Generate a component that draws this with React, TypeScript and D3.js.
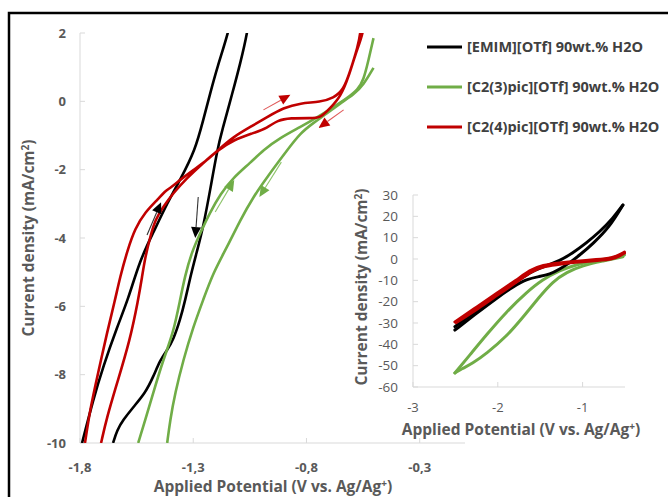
import React from 'react';
import * as d3 from 'd3';

type Pt = [number, number];

// ---- main panel data: potential (V vs Ag/Ag+) , current density (mA/cm2)
const emimLoop: Pt[] = [
  [-1.791, -10.0], [-1.742, -8.74], [-1.698, -7.77], [-1.636, -6.6], [-1.588, -5.81],
  [-1.535, -4.64], [-1.477, -3.85], [-1.415, -2.98], [-1.358, -2.3], [-1.291, -1.42],
  [-1.256, -0.55], [-1.225, 0.24], [-1.194, 1.0], [-1.145, 2.0], [-1.12, 2.8],
  [-1.045, 2.8], [-1.061, 2.0], [-1.092, 1.12], [-1.127, 0.24], [-1.172, -0.84],
  [-1.194, -1.42], [-1.225, -2.59], [-1.256, -3.68], [-1.282, -4.35], [-1.313, -5.14],
  [-1.335, -5.81], [-1.358, -6.4], [-1.388, -6.98], [-1.415, -7.28], [-1.446, -7.57],
  [-1.477, -8.07], [-1.512, -8.54], [-1.565, -8.95], [-1.61, -9.33], [-1.636, -9.62],
  [-1.654, -10.0],
];

const c23Forward: Pt[] = [
  [-1.543, -10.0], [-1.512, -9.33], [-1.477, -8.54], [-1.433, -7.57], [-1.388, -6.78],
  [-1.358, -5.81], [-1.336, -5.1], [-1.308, -4.44], [-1.269, -3.85], [-1.225, -3.24],
  [-1.181, -2.72], [-1.123, -2.23], [-1.048, -1.8], [-0.99, -1.42], [-0.915, -1.06],
  [-0.827, -0.75], [-0.751, -0.46], [-0.681, -0.17], [-0.619, 0.1], [-0.574, 0.33],
  [-0.548, 0.62], [-0.526, 1.21], [-0.504, 1.85],
];
const c23Reverse: Pt[] = [
  [-0.504, 0.98], [-0.548, 0.48], [-0.592, 0.19], [-0.65, -0.05], [-0.707, -0.34],
  [-0.769, -0.63], [-0.827, -0.93], [-0.884, -1.42], [-0.973, -2.21], [-1.035, -2.8],
  [-1.092, -3.47], [-1.15, -4.26], [-1.212, -5.02], [-1.256, -5.81], [-1.3, -6.6],
  [-1.344, -7.57], [-1.38, -8.54], [-1.402, -9.33], [-1.415, -10.0],
];

const c24Loop: Pt[] = [
  [-1.778, -10.0], [-1.756, -9.03], [-1.72, -7.95], [-1.681, -6.78], [-1.645, -5.81],
  [-1.623, -5.14], [-1.59, -4.35], [-1.557, -3.72], [-1.512, -3.24], [-1.459, -2.89],
  [-1.424, -2.62], [-1.402, -2.54], [-1.358, -2.3], [-1.3, -2.01], [-1.238, -1.72],
  [-1.189, -1.42], [-1.123, -1.04], [-1.048, -0.75], [-0.973, -0.46], [-0.902, -0.19],
  [-0.827, -0.05], [-0.738, -0.02], [-0.681, 0.1], [-0.636, 0.33], [-0.605, 0.92],
  [-0.574, 1.59], [-0.561, 2.0], [-0.555, 2.6],
  [-0.542, 2.6], [-0.548, 2.0], [-0.583, 1.41], [-0.614, 0.71], [-0.65, 0.13],
  [-0.694, -0.19], [-0.738, -0.49], [-0.782, -0.49], [-0.871, -0.49], [-0.928, -0.55],
  [-0.973, -0.78], [-1.035, -0.93], [-1.123, -1.13], [-1.189, -1.42], [-1.256, -1.8],
  [-1.327, -2.24], [-1.388, -2.68], [-1.433, -3.09], [-1.468, -3.47], [-1.49, -3.97],
  [-1.512, -4.56], [-1.526, -5.14], [-1.543, -5.81], [-1.579, -6.98], [-1.636, -8.24],
  [-1.681, -9.24], [-1.707, -10.0],
];

// scan direction arrows [from, to]
const scanArrows: { color: string; shaft: string; from: Pt; to: Pt }[] = [
  { color: '#000000', shaft: '#333333', from: [-1.504, -3.91], to: [-1.442, -2.95] },
  { color: '#000000', shaft: '#333333', from: [-1.278, -2.8], to: [-1.291, -4.0] },
  { color: '#70ad47', shaft: '#8cc46a', from: [-1.203, -3.24], to: [-1.119, -2.3] },
  { color: '#70ad47', shaft: '#8cc46a', from: [-0.911, -1.78], to: [-1.008, -2.8] },
  { color: '#c00000', shaft: '#e05a5a', from: [-0.99, -0.25], to: [-0.871, 0.19] },
  { color: '#c00000', shaft: '#e05a5a', from: [-0.636, -0.25], to: [-0.747, -0.78] },
];

// ---- inset data (wider window)
const emimInsetA: Pt[] = [
  [-2.506, -33.3], [-2.247, -25.3], [-2.012, -18.3], [-1.824, -13.1], [-1.659, -9.4],
  [-1.506, -8.2], [-1.388, -7.2], [-1.271, -4.8], [-1.153, -1.8], [-1.035, 1.8],
  [-0.878, 7.2], [-0.682, 15.0], [-0.525, 25.3],
];
const emimInsetB: Pt[] = [
  [-2.506, -31.7], [-2.247, -24.1], [-1.976, -16.0], [-1.741, -9.4], [-1.588, -5.5],
  [-1.431, -3.2], [-1.271, -0.9], [-1.118, 2.8], [-0.957, 7.5], [-0.8, 12.7],
  [-0.643, 19.0], [-0.525, 25.3],
];
const c23InsetA: Pt[] = [
  [-2.506, -53.4], [-2.33, -45.0], [-2.133, -35.5], [-1.9, -24.8], [-1.66, -15.6],
  [-1.47, -9.6], [-1.271, -5.4], [-1.071, -2.5], [-0.835, -0.6], [-0.643, 0.4],
  [-0.506, 1.9],
];
const c23InsetB: Pt[] = [
  [-2.506, -53.4], [-2.43, -51.6], [-2.3, -49.0], [-2.133, -44.3], [-1.9, -36.4],
  [-1.706, -27.4], [-1.506, -17.6], [-1.353, -10.6], [-1.188, -6.2], [-1.0, -3.0],
  [-0.765, -1.0], [-0.525, 1.0],
];
const c24InsetA: Pt[] = [
  [-2.506, -29.5], [-2.247, -22.5], [-2.012, -16.0], [-1.776, -9.8], [-1.624, -5.2],
  [-1.471, -2.8], [-1.271, -1.8], [-1.071, -1.0], [-0.835, -0.3], [-0.643, 0.5],
  [-0.565, 2.0], [-0.506, 3.2],
];
const c24InsetB: Pt[] = [
  [-2.49, -29.8], [-2.23, -23.2], [-1.99, -16.4], [-1.76, -10.4], [-1.6, -5.6],
  [-1.45, -3.4], [-1.25, -2.3], [-1.05, -1.4], [-0.82, -0.7], [-0.64, 0.0],
  [-0.56, 1.5], [-0.506, 2.8],
];

const mainXTicks = [-1.8, -1.3, -0.8, -0.3];
const mainYTicks = [2, 0, -2, -4, -6, -8, -10];
const insetXTicks = [-3, -2, -1];
const insetYTicks = [30, 20, 10, 0, -10, -20, -30, -40, -50, -60];

const legendLabels = [
  '[EMIM][OTf] 90wt.% H2O',
  '[C2(3)pic][OTf] 90wt.% H2O',
  '[C2(4)pic][OTf] 90wt.% H2O',
];
const seriesColors = ['#000000', '#70ad47', '#c00000'];

const FONT = '"Open Sans", "Liberation Sans", sans-serif';
const TICK = '#595959';
const AXIS = '#d9d9d9';

const commaFmt = (d: number) => d.toFixed(1).replace('.', ',');

export default function App() {
  // main panel
  const x = d3.scaleLinear().domain([-1.8, -0.1]).range([80, 465]);
  const y = d3.scaleLinear().domain([-10, 2]).range([443, 33]);
  const line = d3
    .line<Pt>()
    .x((d) => x(d[0]))
    .y((d) => y(d[1]))
    .curve(d3.curveBasis);

  // inset
  const xi = d3.scaleLinear().domain([-3, -0.5]).range([413, 625]);
  const yi = d3.scaleLinear().domain([-60, 30]).range([387, 195]);
  const lineI = d3
    .line<Pt>()
    .x((d) => xi(d[0]))
    .y((d) => yi(d[1]))
    .curve(d3.curveBasis);

  const [x0, x1] = x.range();
  const [y0, y1] = y.range();
  const [xi0, xi1] = xi.range();
  const [yi0, yi1] = yi.range();

  const arrowEls = scanArrows.map((a, i) => {
    const fx = x(a.from[0]);
    const fy = y(a.from[1]);
    const tx = x(a.to[0]);
    const ty = y(a.to[1]);
    const ang = Math.atan2(ty - fy, tx - fx);
    const len = 11;
    const half = 5;
    const bx = tx - len * Math.cos(ang);
    const by = ty - len * Math.sin(ang);
    const px = -Math.sin(ang) * half;
    const py = Math.cos(ang) * half;
    return (
      <g key={i}>
        <line x1={fx} y1={fy} x2={bx} y2={by} stroke={a.shaft} strokeWidth={1.1} />
        <polygon
          points={`${tx},${ty} ${bx + px},${by + py} ${bx - px},${by - py}`}
          fill={a.color}
        />
      </g>
    );
  });

  return (
    <svg
      width={668}
      height={497}
      style={{ position: 'absolute', left: 0, top: 0, background: '#fff' }}
      fontFamily={FONT}
    >
      <defs>
        <clipPath id="mainClip">
          <rect x={x0} y={y1} width={x1 - x0} height={y0 - y1} />
        </clipPath>
      </defs>
      <rect x={9} y={13} width={700} height={520} fill="#fff" stroke="#000" strokeWidth={2.5} />

      {/* main axes */}
      <line x1={x0} x2={x0} y1={y1} y2={y0} stroke={AXIS} strokeWidth={1} />
      <line x1={x0} x2={x1} y1={y0} y2={y0} stroke={AXIS} strokeWidth={1} />
      {mainYTicks.map((t) => (
        <g key={t}>
          <line x1={x0} x2={x0 + 5} y1={y(t)} y2={y(t)} stroke={AXIS} />
          <text x={x0 - 14} y={y(t)} dy="0.35em" textAnchor="end" fontSize={13} fontWeight={700} fill={TICK}>
            {t}
          </text>
        </g>
      ))}
      {mainXTicks.map((t) => (
        <g key={t}>
          <line x1={x(t)} x2={x(t)} y1={y0} y2={y0 - 5} stroke={AXIS} />
          <text x={x(t)} y={y0 + 24} dy="0.35em" textAnchor="middle" fontSize={13} fontWeight={700} fill={TICK}>
            {commaFmt(t)}
          </text>
        </g>
      ))}
      <text x={273} y={487} dy="0.35em" textAnchor="middle" fontSize={15.5} fontWeight={700} fill={TICK}>
        Applied Potential (V vs. Ag/Ag
        <tspan dy={-5} fontSize={10}>+</tspan>
        <tspan dy={5}>)</tspan>
      </text>
      <text
        transform={`translate(29,${(y0 + y1) / 2}) rotate(-90)`}
        dy="0.35em"
        textAnchor="middle"
        fontSize={15.5}
        fontWeight={700}
        fill={TICK}
      >
        Current density (mA/cm<tspan dy={-5} fontSize={10}>2</tspan>
        <tspan dy={5}>)</tspan>
      </text>

      {/* main curves */}
      <g clipPath="url(#mainClip)" fill="none" strokeWidth={2.6} strokeLinejoin="round">
        <path d={line(emimLoop) ?? ''} stroke={seriesColors[0]} />
        <path d={line(c23Forward) ?? ''} stroke={seriesColors[1]} />
        <path d={line(c23Reverse) ?? ''} stroke={seriesColors[1]} />
        <path d={line(c24Loop) ?? ''} stroke={seriesColors[2]} />
      </g>
      {arrowEls}

      {/* legend */}
      {legendLabels.map((lab, i) => (
        <g key={lab} transform={`translate(427,${47 + i * 40})`}>
          <line x1={0} x2={35} y1={0} y2={0} stroke={seriesColors[i]} strokeWidth={3} />
          <text x={40} y={0} dy="0.35em" fontSize={14.5} fontWeight={700} fill="#404040">
            {lab}
          </text>
        </g>
      ))}

      {/* inset */}
      <line x1={xi0} x2={xi0} y1={yi1} y2={yi0} stroke={AXIS} />
      <line x1={xi0} x2={xi1} y1={yi0} y2={yi0} stroke={AXIS} />
      {insetYTicks.map((t) => (
        <g key={t}>
          <line x1={xi0} x2={xi0 + 5} y1={yi(t)} y2={yi(t)} stroke={AXIS} />
          <text x={xi0 - 15} y={yi(t)} dy="0.35em" textAnchor="end" fontSize={13.5} fill={TICK}>
            {t}
          </text>
        </g>
      ))}
      {insetXTicks.map((t) => (
        <g key={t}>
          <line x1={xi(t)} x2={xi(t)} y1={yi0} y2={yi0 - 5} stroke={AXIS} />
          <text x={xi(t)} y={yi0 + 20} dy="0.35em" textAnchor="middle" fontSize={13} fill={TICK}>
            {t}
          </text>
        </g>
      ))}
      <text x={521} y={430} dy="0.35em" textAnchor="middle" fontSize={15.5} fontWeight={700} fill={TICK}>
        Applied Potential (V vs. Ag/Ag
        <tspan dy={-5} fontSize={10}>+</tspan>
        <tspan dy={5}>)</tspan>
      </text>
      <text
        transform={`translate(362,${(yi0 + yi1) / 2 - 4}) rotate(-90)`}
        dy="0.35em"
        textAnchor="middle"
        fontSize={15.5}
        fontWeight={700}
        fill={TICK}
      >
        Current density (mA/cm<tspan dy={-5} fontSize={10}>2</tspan>
        <tspan dy={5}>)</tspan>
      </text>
      <g fill="none" strokeWidth={3} strokeLinejoin="round" strokeLinecap="round">
        <path d={lineI(c23InsetA) ?? ''} stroke={seriesColors[1]} />
        <path d={lineI(c23InsetB) ?? ''} stroke={seriesColors[1]} />
        <path d={lineI(emimInsetA) ?? ''} stroke={seriesColors[0]} />
        <path d={lineI(emimInsetB) ?? ''} stroke={seriesColors[0]} />
        <path d={lineI(c24InsetA) ?? ''} stroke={seriesColors[2]} />
        <path d={lineI(c24InsetB) ?? ''} stroke={seriesColors[2]} />
      </g>
    </svg>
  );
}
